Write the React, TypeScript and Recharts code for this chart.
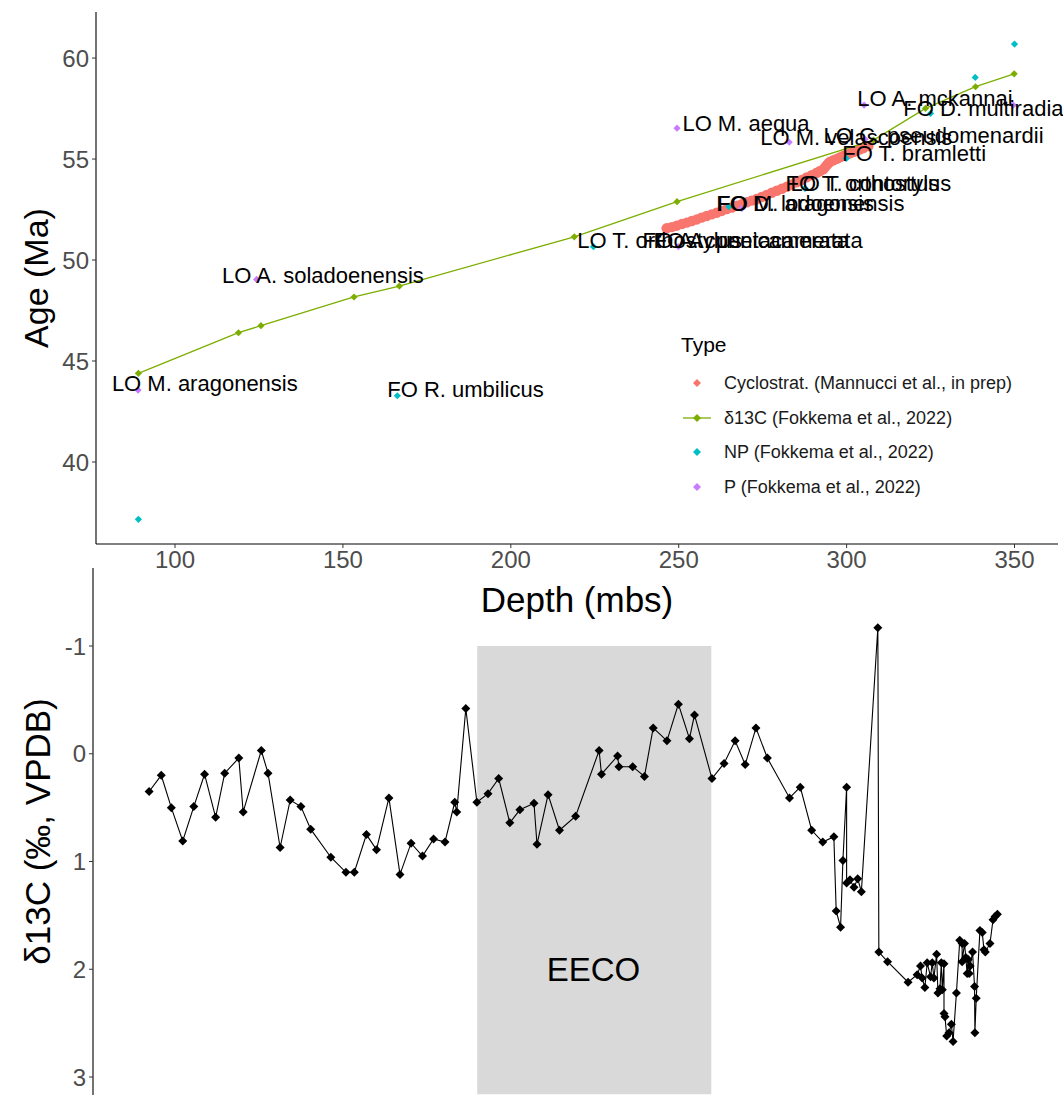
import React from 'react';
import { ComposedChart, Scatter, XAxis, YAxis, ReferenceArea } from 'recharts';

const FONT = "'Liberation Sans', Arial, Helvetica, sans-serif";
const RED = '#F8766D';
const GREEN = '#7CAE00';
const CYAN = '#00BFC4';
const PURPLE = '#C77CFF';

// ---------- Top panel: age model ----------
const depthTicks = [100, 150, 200, 250, 300, 350];
const ageTicks = [40, 45, 50, 55, 60];

const cycloDepth = [246.4, 247.9, 249.4, 250.9, 252.4, 253.9, 255.4, 256.8, 258.3, 259.8, 261.3, 262.8, 264.3, 265.8, 267.3, 268.8, 270.3, 271.7, 273.2, 274.7, 276.2, 277.7, 279.2, 280.7, 282.2, 283.6, 285.1, 286.6, 288.1, 289.6, 291.1, 292.1, 293.1, 293.6, 294.1, 294.6, 295.1, 296.1, 297.1, 298.0, 299.0, 300.0, 301.0, 302.0, 303.0, 304.0, 305.0, 306.5];
const cycloAge = [51.57, 51.63, 51.70, 51.78, 51.85, 51.93, 52.01, 52.10, 52.18, 52.26, 52.34, 52.43, 52.52, 52.60, 52.69, 52.77, 52.86, 52.94, 53.02, 53.12, 53.22, 53.33, 53.43, 53.53, 53.63, 53.74, 53.85, 53.97, 54.09, 54.20, 54.32, 54.41, 54.49, 54.60, 54.70, 54.79, 54.87, 54.94, 55.01, 55.08, 55.15, 55.22, 55.28, 55.35, 55.41, 55.48, 55.54, 55.64];

const tieDepth = [89.1, 118.9, 125.6, 153.3, 166.8, 218.9, 249.5, 308.0, 323.5, 338.4, 349.9];
const tieAge = [44.39, 46.40, 46.75, 48.17, 48.71, 51.15, 52.89, 55.94, 57.51, 58.58, 59.22];

const npDepth = [89.1, 166.2, 224.6, 264.9, 287.6, 299.9, 325.0, 338.3, 350.0];
const npAge = [37.16, 43.28, 50.66, 52.64, 53.55, 55.03, 57.26, 59.04, 60.69];

const pDepth = [89.0, 124.3, 249.5, 249.9, 268.8, 282.9, 305.5, 305.2, 349.6];
const pAge = [43.56, 49.04, 56.53, 50.66, 52.56, 55.83, 55.98, 57.67, 57.67];

const datumNames = ['LO M. aragonensis', 'LO A. soladoenensis', 'FO R. umbilicus', 'LO T. orthostylus', 'FO A. cuneicamerata', 'FO A. pentacamerata', 'FO D. lodoensis', 'FO M. aragonensis', 'FO T. orthostylus', 'LO T. contortus', 'LO M. aequa', 'LO M. velascoensis', 'LO C. pseudomenardii', 'FO T. bramletti', 'LO A. mckannai', 'FO D. multiradiatus'];
const datumLabelDepth = [81.2, 114.0, 163.2, 219.8, 239.2, 242.5, 261.2, 261.5, 281.8, 283.3, 251.1, 274.3, 293.1, 298.7, 303.2, 316.9];
const datumLabelAge = [43.91, 49.26, 43.61, 50.99, 50.99, 50.99, 52.82, 52.82, 53.81, 53.81, 56.78, 56.09, 56.19, 55.30, 58.02, 57.52];

const legendTitle = 'Type';
const legendLabels = ['Cyclostrat. (Mannucci et al., in prep)', 'δ13C (Fokkema et al., 2022)', 'NP (Fokkema et al., 2022)', 'P (Fokkema et al., 2022)'];

// ---------- Bottom panel: d13C record ----------
const isoTicks = [-1, 0, 1, 2, 3];
const isoDepth = [92.3, 95.9, 98.9, 102.3, 105.6, 108.8, 112.1, 114.8, 119.0, 120.3,
  125.7, 127.7, 131.3, 134.3, 137.5, 140.4, 146.4, 150.9, 153.4, 157.0,
  160.0, 163.7, 167.0, 170.3, 173.7, 177.0, 180.4, 183.3, 183.9, 186.6,
  189.9, 193.2, 196.4, 199.7, 202.7, 206.9, 207.8, 211.1, 214.5, 219.3,
  226.3, 227.0, 231.8, 232.2, 236.3, 239.8, 242.4, 246.5, 249.9, 253.2,
  254.7, 259.9, 263.5, 266.8, 269.8, 273.0, 276.4, 283.0, 286.2, 289.6,
  292.9, 296.2, 296.9, 298.2, 298.9, 300.0, 300.0, 301.0, 302.2, 303.3,
  304.4, 309.3, 309.6, 312.2, 318.3, 321.0, 322.0, 322.5, 323.3, 324.0,
  325.0, 325.5, 326.0, 326.8, 327.2, 327.8, 328.2, 328.5, 329.0, 329.0,
  329.3, 329.8, 330.5, 331.2, 331.7, 332.7, 333.7, 334.4, 334.4, 335.1,
  335.5, 335.9, 336.2, 336.5, 336.8, 337.5, 338.1, 338.2, 338.6, 339.7,
  340.4, 340.9, 341.3, 342.7, 343.6, 344.2, 344.9];
const isoValue = [0.35, 0.20, 0.50, 0.81, 0.49, 0.19, 0.59, 0.18, 0.04, 0.54,
  -0.03, 0.18, 0.87, 0.43, 0.49, 0.70, 0.96, 1.10, 1.10, 0.75,
  0.89, 0.41, 1.12, 0.83, 0.95, 0.79, 0.82, 0.45, 0.54, -0.42,
  0.45, 0.37, 0.23, 0.64, 0.52, 0.46, 0.84, 0.38, 0.71, 0.58,
  -0.03, 0.19, 0.02, 0.12, 0.12, 0.21, -0.24, -0.12, -0.46, -0.14,
  -0.36, 0.23, 0.09, -0.12, 0.10, -0.24, 0.04, 0.41, 0.31, 0.71,
  0.82, 0.77, 1.46, 1.61, 0.99, 0.31, 1.20, 1.17, 1.24, 1.16,
  1.28, -1.17, 1.84, 1.93, 2.12, 2.05, 1.97, 2.08, 2.17, 1.94,
  2.07, 1.94, 2.08, 1.86, 2.22, 2.18, 1.94, 2.19, 1.95, 2.41,
  2.44, 2.62, 2.59, 2.51, 2.67, 2.22, 1.73, 1.76, 1.93, 1.76,
  1.89, 2.04, 1.91, 2.04, 1.97, 1.84, 2.16, 2.59, 2.27, 1.64,
  1.66, 1.82, 1.84, 1.76, 1.54, 1.51, 1.49];

const eecoStart = 190;
const eecoEnd = 259.7;
const eecoText = 'EECO';
const eecoTextDepth = 224.6;
const eecoTextValue = 2.0;

// ---------- tables ----------
const toAge = (d: number[], a: number[]) => d.map((x, i) => ({ depth: x, age: a[i] }));
const cycloData = toAge(cycloDepth, cycloAge);
const tieData = toAge(tieDepth, tieAge);
const npData = toAge(npDepth, npAge);
const pData = toAge(pDepth, pAge);
const labelData = datumNames.map((n, i) => ({ depth: datumLabelDepth[i], age: datumLabelAge[i], name: n }));
const isoData = isoDepth.map((x, i) => ({ depth: x, d13c: isoValue[i] }));
const eecoData = [{ depth: eecoTextDepth, d13c: eecoTextValue, name: eecoText }];

const diamond = (r: number, color: string) => (p: any) => {
  if (p == null || p.cx == null || p.cy == null) return <g />;
  const { cx, cy } = p;
  return <path d={`M${cx},${cy - r}L${cx + r},${cy}L${cx},${cy + r}L${cx - r},${cy}Z`} fill={color} stroke="none" />;
};

const dot = (r: number, color: string) => (p: any) => {
  if (p == null || p.cx == null || p.cy == null) return <g />;
  return <circle cx={p.cx} cy={p.cy} r={r} fill={color} stroke="none" />;
};

const textShape = (size: number, anchor: 'start' | 'middle') => (p: any) => {
  if (p == null || p.cx == null || p.cy == null) return <g />;
  return (
    <text x={p.cx} y={p.cy} dy="0.35em" textAnchor={anchor} fontSize={size} fontFamily={FONT} fill="#000">
      {p.payload.name}
    </text>
  );
};

const tickStyle = { fill: '#4d4d4d', fontSize: 24, fontFamily: FONT };

const xTitle = (text: string, off: number) => (props: any) => {
  const vb = props.viewBox || {};
  return (
    <text x={vb.x + vb.width / 2} y={vb.y + off} dy="0.35em" textAnchor="middle" fontSize={35} fontFamily={FONT} fill="#000">
      {text}
    </text>
  );
};
const yTitle = (text: string, cx: number, size: number) => (props: any) => {
  const vb = props.viewBox || {};
  const cy = vb.y + vb.height / 2;
  return (
    <text x={cx} y={cy} dy="0.35em" textAnchor="middle" fontSize={size} fontFamily={FONT} fill="#000" transform={`rotate(-90, ${cx}, ${cy})`}>
      {text}
    </text>
  );
};

const legendColors = [RED, GREEN, CYAN, PURPLE];
const legendRows = [383, 418, 452, 487];

function Legend() {
  return (
    <div style={{ position: 'absolute', left: 0, top: 0, width: 1063, height: 600, pointerEvents: 'none', fontFamily: FONT }}>
      <div style={{ position: 'absolute', left: 681, top: 333, fontSize: 21, lineHeight: '24px', color: '#000' }}>{legendTitle}</div>
      {legendLabels.map((lab, i) => (
        <React.Fragment key={lab}>
          <svg style={{ position: 'absolute', left: 681, top: legendRows[i] - 10 }} width={32} height={20}>
            {i === 1 && <line x1={2} y1={10} x2={30} y2={10} stroke={GREEN} strokeWidth={1.3} />}
            <path d="M16,6L20,10L16,14L12,10Z" fill={legendColors[i]} />
          </svg>
          <div style={{ position: 'absolute', left: 724, top: legendRows[i] - 11, fontSize: 18, lineHeight: '22px', color: '#1a1a1a', whiteSpace: 'nowrap' }}>{lab}</div>
        </React.Fragment>
      ))}
    </div>
  );
}

export default function App() {
  return (
    <div style={{ position: 'absolute', left: 0, top: 0, width: 1063, height: 1095, background: '#fff', overflow: 'hidden' }}>
      <div style={{ position: 'absolute', left: 0, top: 568 }}>
        <ComposedChart width={1063} height={527} margin={{ top: 0, right: 5, bottom: 0, left: 0 }}>
          <XAxis type="number" dataKey="depth" domain={[75.58, 362.95]} hide />
          <YAxis
            type="number"
            dataKey="d13c"
            domain={[-1.724, 3.167]}
            reversed
            ticks={isoTicks}
            width={93}
            tick={tickStyle}
            tickSize={4}
            tickMargin={3}
            tickLine={{ stroke: '#333' }}
            axisLine={{ stroke: '#000', strokeWidth: 1.1 }}
            label={{ content: yTitle('δ13C (‰, VPDB)', 38, 35) }}
          />
          <ReferenceArea x1={eecoStart} x2={eecoEnd} y1={-1} y2={3.16} fill="#d9d9d9" fillOpacity={1} stroke="none" ifOverflow="visible" />
          <Scatter data={isoData} line={{ stroke: '#000', strokeWidth: 1.1 }} shape={diamond(4.5, '#000')} isAnimationActive={false} />
          <Scatter data={eecoData} shape={textShape(33, 'middle')} isAnimationActive={false} />
        </ComposedChart>
      </div>
      <div style={{ position: 'absolute', left: 0, top: 0 }}>
        <ComposedChart width={1063} height={625} margin={{ top: 12, right: 5, bottom: 0, left: 0 }}>
          <XAxis
            type="number"
            dataKey="depth"
            domain={[76.47, 362.95]}
            ticks={depthTicks}
            height={81}
            tick={tickStyle}
            tickSize={4}
            tickMargin={3}
            tickLine={{ stroke: '#333' }}
            axisLine={{ stroke: '#000', strokeWidth: 1.1 }}
            label={{ content: xTitle('Depth (mbs)', 56) }}
          />
          <YAxis
            type="number"
            dataKey="age"
            domain={[35.94, 62.28]}
            ticks={ageTicks}
            width={96}
            tick={tickStyle}
            tickSize={4}
            tickMargin={3}
            tickLine={{ stroke: '#333' }}
            axisLine={{ stroke: '#000', strokeWidth: 1.1 }}
            label={{ content: yTitle('Age (Ma)', 36, 34) }}
          />
          <Scatter data={cycloData} shape={dot(5.2, RED)} isAnimationActive={false} />
          <Scatter data={tieData} line={{ stroke: GREEN, strokeWidth: 1.3 }} shape={diamond(3.6, GREEN)} isAnimationActive={false} />
          <Scatter data={npData} shape={diamond(3.6, CYAN)} isAnimationActive={false} />
          <Scatter data={pData} shape={diamond(3.6, PURPLE)} isAnimationActive={false} />
          <Scatter data={labelData} shape={textShape(22, 'start')} isAnimationActive={false} />
        </ComposedChart>
      </div>
      <Legend />
    </div>
  );
}
